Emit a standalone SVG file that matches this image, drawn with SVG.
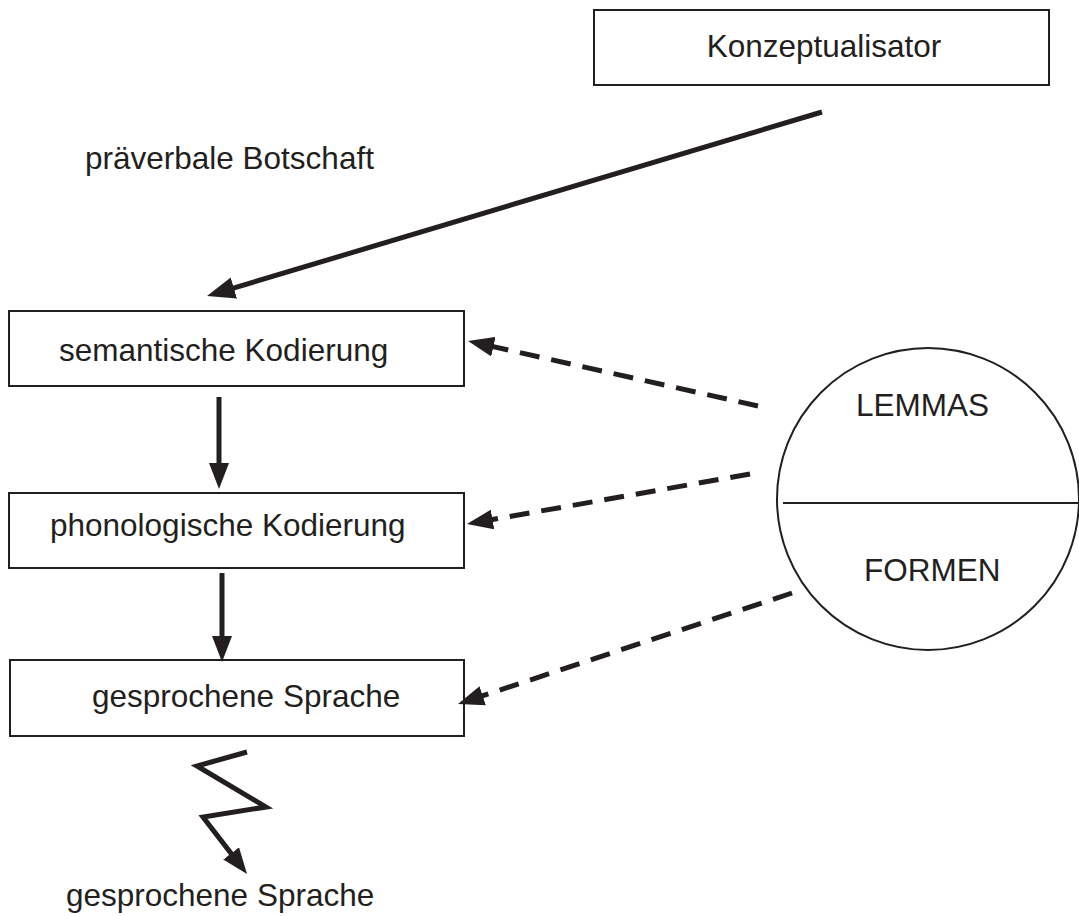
<svg xmlns="http://www.w3.org/2000/svg" width="1079" height="916" viewBox="0 0 1079 916">
<style>
.box{fill:#fff;stroke:#231f20;stroke-width:2}
.t{font-family:"Liberation Sans",Arial,sans-serif;font-size:31.5px;fill:#231f20}
.solid{fill:none;stroke:#231f20;stroke-width:5}
.dash{fill:none;stroke:#231f20;stroke-width:5;stroke-dasharray:20 12}
</style>
<defs>
<marker id="ah" viewBox="0 0 26 20" refX="16" refY="10" markerWidth="26" markerHeight="20" markerUnits="userSpaceOnUse" orient="auto">
<path d="M0,0 L26,10 L0,20 Z" fill="#231f20"/>
</marker>
<marker id="ahBig" viewBox="0 0 28 22" refX="18" refY="11" markerWidth="28" markerHeight="22" markerUnits="userSpaceOnUse" orient="auto">
<path d="M0,0 L28,11 L0,22 Z" fill="#231f20"/>
</marker>
</defs>
<rect width="1079" height="916" fill="#fff"/>
<g id="konzeptualisator">
<rect class="box" x="594" y="10" width="455" height="75"/>
<text class="t" x="824" y="57" text-anchor="middle">Konzeptualisator</text>
</g>
<g id="praeverbale">
<text class="t" x="85" y="169">präverbale Botschaft</text>
</g>
<g id="semantisch">
<rect class="box" x="9" y="311" width="455" height="75"/>
<text class="t" x="59" y="361">semantische Kodierung</text>
</g>
<g id="phonologisch">
<rect class="box" x="9" y="493" width="455" height="75"/>
<text class="t" x="50" y="536">phonologische Kodierung</text>
</g>
<g id="gesprochen">
<rect class="box" x="10" y="660" width="454" height="76"/>
<text class="t" x="92" y="707">gesprochene Sprache</text>
</g>
<g id="lexikon">
<circle cx="928" cy="499" r="151" fill="#fff" stroke="#231f20" stroke-width="2"/>
<line x1="783" y1="503" x2="1079" y2="503" stroke="#231f20" stroke-width="2"/>
<text class="t" x="856" y="416">LEMMAS</text>
<text class="t" x="864" y="581">FORMEN</text>
</g>
<g id="output">
<text class="t" x="66" y="906">gesprochene Sprache</text>
</g>
<g id="connectors">
<path class="solid" d="M822,112 L216.6,293.1" marker-end="url(#ahBig)"/>
<path class="solid" d="M219,397 L219,479" marker-end="url(#ah)"/>
<path class="solid" d="M222,573 L222,652" marker-end="url(#ah)"/>
<path class="dash" d="M758,406 L477.8,343.2" marker-end="url(#ah)"/>
<path class="dash" d="M750,474 L476.8,522.3" marker-end="url(#ah)"/>
<path class="dash" d="M792,593 L467.5,700.8" marker-end="url(#ah)"/>
<path class="solid" d="M247,752 L197,766 L266,807 L203,817 L240.9,866.1" stroke-linejoin="miter" marker-end="url(#ah)"/>
</g>
</svg>
